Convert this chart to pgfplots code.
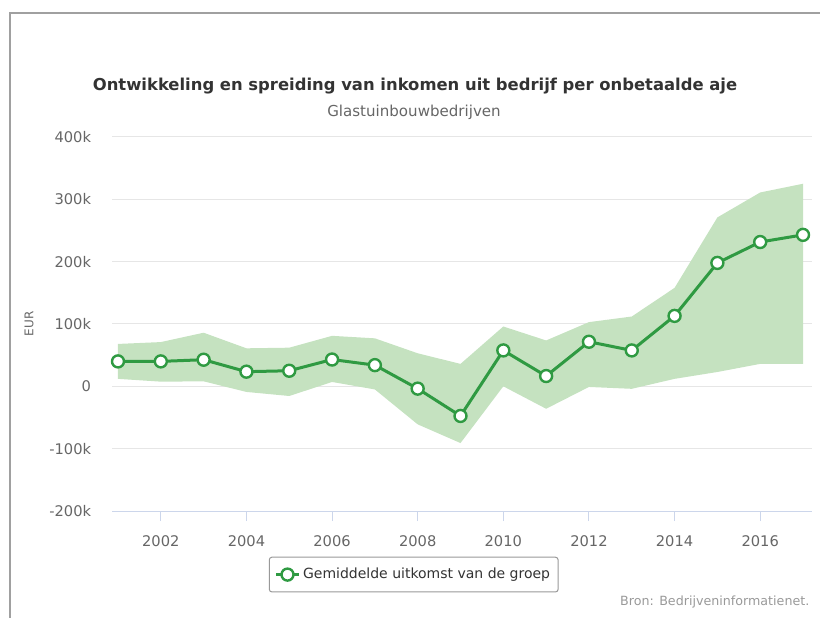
\documentclass[border=0pt]{standalone}
\usepackage{fontspec}
\setmainfont{DejaVu Sans}
\usepackage{pgfplots}
\pgfplotsset{compat=1.18}
\definecolor{lijnkleur}{HTML}{2F9A42}
\definecolor{bandkleur}{HTML}{C5E2C0}
\definecolor{gridkleur}{HTML}{E6E6E6}
\definecolor{askleur}{HTML}{CCD6EB}
\definecolor{txtkleur}{HTML}{333333}
\definecolor{lblkleur}{HTML}{666666}
\definecolor{srckleur}{HTML}{999999}
\definecolor{randkleur}{HTML}{A0A0A0}
\begin{document}
\begin{tikzpicture}
\path[use as bounding box] (0,0) rectangle (615pt,462.75pt);
\draw[randkleur, line width=0.9pt] (7.5pt,-2pt) -- (7.5pt,453pt) -- (620pt,453pt);
\node[font=\bfseries\fontsize{12.3}{15}\selectfont, text=txtkleur] at (311.25pt,398pt) {Ontwikkeling en spreiding van inkomen uit bedrijf per onbetaalde aje};
\node[font=\fontsize{11.3}{13}\selectfont, text=lblkleur] at (310.5pt,378.5pt) {Glastuinbouwbedrijven};
\node[font=\fontsize{9.5}{11}\selectfont, text=srckleur, anchor=east] at (610.5pt,11pt) {Bron: Bedrijveninformatienet.};
\begin{axis}[
  at={(84pt,79.5pt)}, anchor=south west,
  scale only axis, width=525pt, height=280.5pt,
  xmin=2000.86, xmax=2017.21,
  ymin=-200000, ymax=400000,
  axis x line*=bottom, axis y line*=left,
  x axis line style={-, draw=askleur, line width=0.75pt},
  y axis line style={draw=none},
  xtick={2002,2004,...,2016},
  ytick={-200000,-100000,0,100000,200000,300000,400000},
  yticklabels={-200k,-100k,0,100k,200k,300k,400k},
  /pgf/number format/1000 sep={},
  /pgf/number format/assume math mode=true,
  scaled y ticks=false,
  tick align=outside,
  major tick length=7.5pt,
  xtick style={draw=askleur, line width=0.75pt},
  ytick style={draw=none},
  ymajorgrids, grid style={draw=gridkleur, line width=0.75pt},
  ticklabel style={font=\fontsize{11}{13}\selectfont, text=lblkleur},
  yticklabel style={inner sep=0pt, anchor=east, xshift=-8pt},
  xticklabel style={inner sep=0pt, anchor=center, yshift=-15pt},
  ylabel={EUR},
  ylabel style={at={(axis description cs:-0.1186,0.5)}, anchor=center, font=\fontsize{9}{11}\selectfont, text=lblkleur},
  legend style={at={(0.431,-0.17)}, anchor=center, draw=srckleur, rounded corners=2pt, line width=0.75pt, font=\fontsize{10.5}{12}\selectfont, text=txtkleur, inner xsep=4pt, inner ysep=6.3pt},
  legend cell align=left,
]
\addplot[fill=bandkleur, draw=none, forget plot] coordinates {
(2001,68000) (2002,71000) (2003,86000) (2004,61000) (2005,62000) (2006,81000) (2007,77000) (2008,53000) (2009,36000) (2010,96000) (2011,73600) (2012,103000) (2013,112000) (2014,158000) (2015,271000) (2016,311000) (2017,325000)
(2017,36000) (2016,36000) (2015,23000) (2014,12000) (2013,-4000) (2012,-1000) (2011,-36000) (2010,0) (2009,-91000) (2008,-61000) (2007,-5000) (2006,7000) (2005,-15500) (2004,-9000) (2003,8000) (2002,7500) (2001,12000)} -- cycle;
\addplot[lijnkleur, line width=2.25pt, mark=*, mark size=4.5pt, mark options={fill=white, draw=lijnkleur, line width=1.8pt}] coordinates {
(2001,40000) (2002,40000) (2003,42700) (2004,23500) (2005,25000) (2006,43000) (2007,34000) (2008,-3700) (2009,-47500) (2010,57600) (2011,16500) (2012,71500) (2013,57600) (2014,113000) (2015,198000) (2016,231500) (2017,243000)};
\addlegendentry{Gemiddelde uitkomst van de groep}
\end{axis}
\end{tikzpicture}
\end{document}
